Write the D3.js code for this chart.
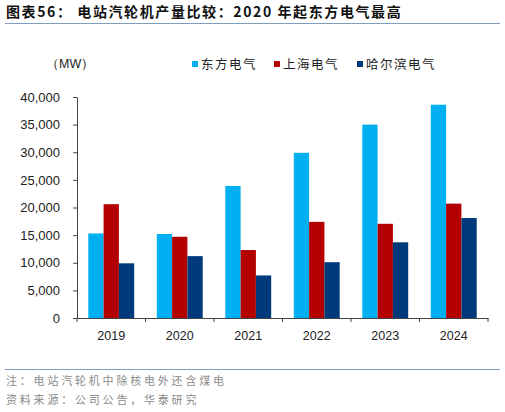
<!DOCTYPE html>
<html>
<head>
<meta charset="utf-8">
<script src="https://cdn.jsdelivr.net/npm/d3@7"></script>
<style>
  body { margin: 0; background: #fff; }
  svg { display: block; font-family: "Liberation Sans", Arial, sans-serif; }
</style>
</head>
<body>
<svg id="chart"></svg>
<script>
const width = 505;
const height = 412;
const margin = {top: 97, right: 17, bottom: 94, left: 77};

const years = ["2019", "2020", "2021", "2022", "2023", "2024"];
const seriesNames = ["东方电气", "上海电气", "哈尔滨电气"];
const dongfang = [15300, 15200, 23900, 29900, 35000, 38600];
const shanghai = [20600, 14700, 12300, 17400, 17050, 20700];
const harbin = [9900, 11200, 7700, 10100, 13700, 18100];
const yTicks = [0, 5000, 10000, 15000, 20000, 25000, 30000, 35000, 40000];
const colors = ["#00B0F0", "#B30000", "#003A7A"];

const table = years.map((y, i) => ({
    year: y,
    values: [dongfang[i], shanghai[i], harbin[i]]
}));

const svg = d3.select("#chart")
    .attr("width", width)
    .attr("height", height);

const cjk = '"Noto Sans CJK SC", sans-serif';

// title
svg.append("text")
    .attr("x", 6)
    .attr("y", 17)
    .attr("font-family", cjk)
    .attr("font-weight", "bold")
    .attr("font-size", 14)
    .attr("letter-spacing", 1.6)
    .attr("fill", "#111")
    .text("图表56：  电站汽轮机产量比较：2020 年起东方电气最高");

svg.append("line")
    .attr("x1", 5).attr("x2", 500)
    .attr("y1", 23.5).attr("y2", 23.5)
    .attr("stroke", "#7F9DBF")
    .attr("stroke-width", 1);

const x = d3.scaleBand()
    .domain(years)
    .range([margin.left, width - margin.right])
    .paddingInner(0.33)
    .paddingOuter(0.165);

const x1 = d3.scaleBand()
    .domain(d3.range(seriesNames.length))
    .range([0, x.bandwidth()]);

const y = d3.scaleLinear()
    .domain([0, 40000])
    .range([height - margin.bottom, margin.top]);

// bars
svg.append("g")
    .selectAll("g")
    .data(table)
    .join("g")
    .attr("transform", d => `translate(${x(d.year)},0)`)
    .selectAll("rect")
    .data(d => d.values)
    .join("rect")
    .attr("x", (d, i) => x1(i))
    .attr("y", d => y(d))
    .attr("width", x1.bandwidth())
    .attr("height", d => y(0) - y(d))
    .attr("fill", (d, i) => colors[i]);

// y axis
const yAxis = svg.append("g")
    .attr("transform", `translate(${margin.left},0)`)
    .call(d3.axisLeft(y).tickValues(yTicks).tickFormat(d3.format(",")).tickSize(4).tickSizeOuter(0));
yAxis.select(".domain").attr("stroke", "#444");
yAxis.selectAll(".tick line").attr("stroke", "#444");
yAxis.selectAll("text")
    .attr("x", -17)
    .attr("font-size", 13)
    .attr("fill", "#222");

// x axis with boundary ticks
const xAxis = svg.append("g")
    .attr("transform", `translate(0,${y(0)})`)
    .call(d3.axisBottom(x).tickSize(0).tickSizeOuter(0));
xAxis.select(".domain").attr("stroke", "#444");
xAxis.selectAll("text")
    .attr("dy", "1.5em")
    .attr("font-size", 12.5)
    .attr("fill", "#222");

const bounds = d3.range(years.length + 1).map(i => margin.left + i * (width - margin.left - margin.right) / years.length);
xAxis.selectAll(".bound")
    .data(bounds)
    .join("line")
    .attr("class", "bound")
    .attr("x1", d => d).attr("x2", d => d)
    .attr("y1", 0).attr("y2", 4)
    .attr("stroke", "#444");

// unit
svg.append("text")
    .attr("x", 46)
    .attr("y", 68)
    .attr("font-size", 12.5)
    .attr("fill", "#222")
    .text("（MW）");

// legend
const legendX = [192, 274, 357];
const legend = svg.append("g")
    .selectAll("g")
    .data(seriesNames)
    .join("g")
    .attr("transform", (d, i) => `translate(${legendX[i]},64)`);
legend.append("rect")
    .attr("x", 0).attr("y", -3)
    .attr("width", 6).attr("height", 6)
    .attr("fill", (d, i) => colors[i]);
legend.append("text")
    .attr("x", 9)
    .attr("y", 5)
    .attr("font-family", cjk)
    .attr("font-size", 12.5)
    .attr("letter-spacing", 1.5)
    .attr("fill", "#222")
    .text(d => d);

// footer
svg.append("line")
    .attr("x1", 5).attr("x2", 500)
    .attr("y1", 369.5).attr("y2", 369.5)
    .attr("stroke", "#7F9DBF")
    .attr("stroke-width", 1);

const notes = ["注：电站汽轮机中除核电外还含煤电", "资料来源：公司公告，华泰研究"];
svg.append("g")
    .selectAll("text")
    .data(notes)
    .join("text")
    .attr("x", 6)
    .attr("y", (d, i) => 385 + i * 19)
    .attr("font-family", cjk)
    .attr("font-size", 11)
    .attr("letter-spacing", 2.8)
    .attr("fill", "#8a8a8a")
    .text(d => d);
</script>
</body>
</html>
